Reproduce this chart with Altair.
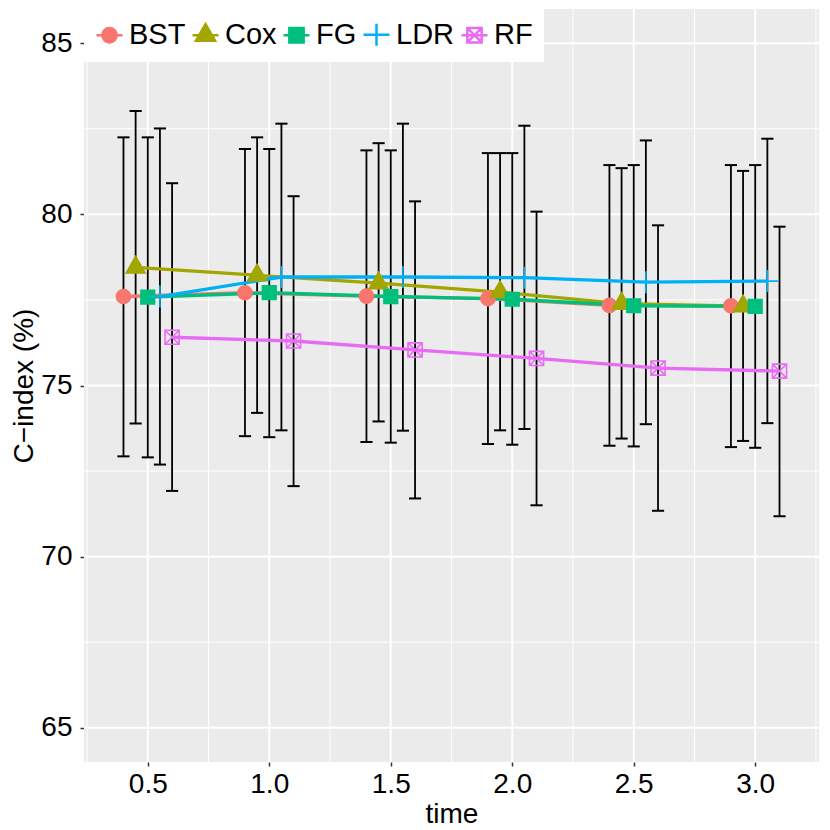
import altair as alt
import pandas as pd

times = [0.5, 1.0, 1.5, 2.0, 2.5, 3.0]
models = ["BST", "Cox", "FG", "LDR", "RF"]
colors = ["#F8766D", "#A3A500", "#00BF7D", "#00B0F6", "#E76BF3"]

bst_mean = [77.60, 77.71, 77.61, 77.54, 77.34, 77.33]
bst_lo = [72.93, 73.52, 73.35, 73.29, 73.24, 73.20]
bst_hi = [82.25, 81.91, 81.87, 81.79, 81.44, 81.44]

cox_mean = [78.45, 78.22, 77.99, 77.73, 77.39, 77.32]
cox_lo = [73.89, 74.20, 73.95, 73.69, 73.45, 73.38]
cox_hi = [83.02, 82.25, 82.08, 81.79, 81.35, 81.27]

fg_mean = [77.58, 77.71, 77.60, 77.52, 77.33, 77.31]
fg_lo = [72.90, 73.49, 73.33, 73.27, 73.22, 73.18]
fg_hi = [82.25, 81.91, 81.87, 81.79, 81.44, 81.44]

ldr_mean = [77.60, 78.17, 78.17, 78.15, 78.02, 78.05]
ldr_lo = [72.69, 73.69, 73.68, 73.73, 73.87, 73.90]
ldr_hi = [82.51, 82.65, 82.65, 82.59, 82.16, 82.21]

rf_mean = [76.41, 76.30, 76.04, 75.79, 75.51, 75.42]
rf_lo = [71.92, 72.06, 71.70, 71.50, 71.34, 71.18]
rf_hi = [80.91, 80.53, 80.38, 80.08, 79.68, 79.64]

x_ticks = [0.5, 1.0, 1.5, 2.0, 2.5, 3.0]
y_ticks = [65, 70, 75, 80, 85]
x_minor = [0.25, 0.75, 1.25, 1.75, 2.25, 2.75, 3.25]
y_minor = [67.5, 72.5, 77.5, 82.5]

series = {
    "BST": (bst_mean, bst_lo, bst_hi),
    "Cox": (cox_mean, cox_lo, cox_hi),
    "FG": (fg_mean, fg_lo, fg_hi),
    "LDR": (ldr_mean, ldr_lo, ldr_hi),
    "RF": (rf_mean, rf_lo, rf_hi),
}

DODGE = 0.25  # position_dodge width
n = len(models)
rows = []
for i, m in enumerate(models):
    mean, lo, hi = series[m]
    off = (i - (n - 1) / 2) * DODGE / n
    for t, a, b, c in zip(times, mean, lo, hi):
        rows.append({"model": m, "time": t, "xd": t + off, "mean": a, "lo": b, "hi": c})
df = pd.DataFrame(rows)

FONT = "Liberation Sans"
X_DOMAIN = [0.2375, 3.2625]
Y_DOMAIN = [64, 86]
xs = alt.Scale(domain=X_DOMAIN, nice=False, zero=False)
ys = alt.Scale(domain=Y_DOMAIN, nice=False, zero=False)
xaxis = alt.Axis(values=x_ticks, format=".1f", title="time")
yaxis = alt.Axis(values=y_ticks, format="d", title="C\u2212index (%)")

pt_shapes = [
    "M-0.64,0A0.64,0.64 0 1,0 0.64,0A0.64,0.64 0 1,0 -0.64,0Z",
    "M0,-1.0L0.86,0.5L-0.86,0.5Z",
    "M-0.62,-0.62H0.62V0.62H-0.62Z",
    "M-1,0H1M0,-1V1",
    "M-0.64,-0.64H0.64V0.64H-0.64ZM-0.64,-0.64L0.64,0.64M-0.64,0.64L0.64,-0.64",
]
leg_shapes = [
    "M-1,0H1M-0.55,0A0.55,0.55 0 1,0 0.55,0A0.55,0.55 0 1,0 -0.55,0Z",
    "M-1,0H1M0,-0.85L0.74,0.43L-0.74,0.43Z",
    "M-1,0H1M-0.55,-0.55H0.55V0.55H-0.55Z",
    "M-1,0H1M0,-0.85V0.85",
    "M-1,0H1M-0.55,-0.55H0.55V0.55H-0.55ZM-0.55,-0.55L0.55,0.55M-0.55,0.55L0.55,-0.55",
]
fills = colors[:3] + ["transparent", "transparent"]

base = alt.Chart(df)

panel = alt.Chart(pd.DataFrame({"x0": [X_DOMAIN[0]], "x1": [X_DOMAIN[1]], "y0": [Y_DOMAIN[0]], "y1": [Y_DOMAIN[1]]})).mark_rect(
    color="#EBEBEB").encode(
    x=alt.X("x0:Q", scale=xs, axis=xaxis), x2="x1:Q",
    y=alt.Y("y0:Q", scale=ys, axis=yaxis), y2="y1:Q",
)
major_x = alt.Chart(pd.DataFrame({"v": x_ticks})).mark_rule(color="white", strokeWidth=2).encode(
    x=alt.X("v:Q", scale=xs, axis=xaxis))
major_y = alt.Chart(pd.DataFrame({"v": y_ticks})).mark_rule(color="white", strokeWidth=2).encode(
    y=alt.Y("v:Q", scale=ys, axis=yaxis))
minor_x = alt.Chart(pd.DataFrame({"v": x_minor})).mark_rule(color="white", strokeWidth=1).encode(
    x=alt.X("v:Q", scale=xs, axis=xaxis))
minor_y = alt.Chart(pd.DataFrame({"v": y_minor})).mark_rule(color="white", strokeWidth=1).encode(
    y=alt.Y("v:Q", scale=ys, axis=yaxis))

bars = base.mark_rule(color="black", strokeWidth=1.8).encode(
    x=alt.X("xd:Q", scale=xs, axis=xaxis),
    y=alt.Y("lo:Q", scale=ys, axis=yaxis),
    y2="hi:Q",
)
caps = base.transform_fold(["lo", "hi"], as_=["end", "yv"]).transform_calculate(
    xa="datum.xd - 0.025", xb="datum.xd + 0.025"
).mark_rule(color="black", strokeWidth=2).encode(
    x=alt.X("xa:Q", scale=xs, axis=xaxis),
    x2="xb:Q",
    y=alt.Y("yv:Q", scale=ys, axis=yaxis),
)
lines = base.mark_line(strokeWidth=3.3).encode(
    x=alt.X("xd:Q", scale=xs, axis=xaxis),
    y=alt.Y("mean:Q", scale=ys, axis=yaxis),
    stroke=alt.Stroke("model:N", scale=alt.Scale(domain=models, range=colors), legend=None),
)
points = base.mark_point(size=484, strokeWidth=1.6, opacity=1, filled=False).encode(
    x=alt.X("xd:Q", scale=xs, axis=xaxis),
    y=alt.Y("mean:Q", scale=ys, axis=yaxis),
    stroke=alt.Stroke("model:N", scale=alt.Scale(domain=models, range=colors), legend=None),
    fill=alt.Fill("model:N", scale=alt.Scale(domain=models, range=fills), legend=None),
    shape=alt.Shape("model:N", scale=alt.Scale(domain=models, range=pt_shapes), legend=None),
)

leg = alt.Legend(
    title=None, orient="top-left", direction="horizontal", offset=0, padding=11,
    fillColor="white", labelFont=FONT, labelFontSize=29, labelColor="black",
    symbolSize=676, symbolStrokeWidth=2.5, labelOffset=5, columnPadding=1,
    symbolOpacity=1,
)
legend_layer = base.transform_filter("false").mark_point(size=676, strokeWidth=2.5, opacity=1, filled=False).encode(
    stroke=alt.Stroke("model:N", scale=alt.Scale(domain=models, range=colors), legend=leg),
    fill=alt.Fill("model:N", scale=alt.Scale(domain=models, range=fills), legend=leg),
    shape=alt.Shape("model:N", scale=alt.Scale(domain=models, range=leg_shapes), legend=leg),
)

chart = alt.layer(panel, minor_x, minor_y, major_x, major_y, bars, caps, lines, points, legend_layer).resolve_scale(
    stroke="independent", fill="independent", shape="independent"
).properties(
    width=735, height=753,
    padding={"left": 2, "top": 0, "right": 2, "bottom": 0},
).configure_view(
    strokeWidth=0
).configure_axis(
    labelFont=FONT, labelFontSize=28, labelColor="black",
    titleFont=FONT, titleFontSize=28, titleColor="black", titleFontWeight="normal",
    domain=False, grid=False, tickColor="#333333", tickSize=4, tickWidth=1.5,
).configure_axisX(
    labelPadding=4, titlePadding=2,
).configure_axisY(
    labelPadding=8, titlePadding=2,
)

chart.save("out.html", embed_options={"renderer": "svg", "actions": False})
